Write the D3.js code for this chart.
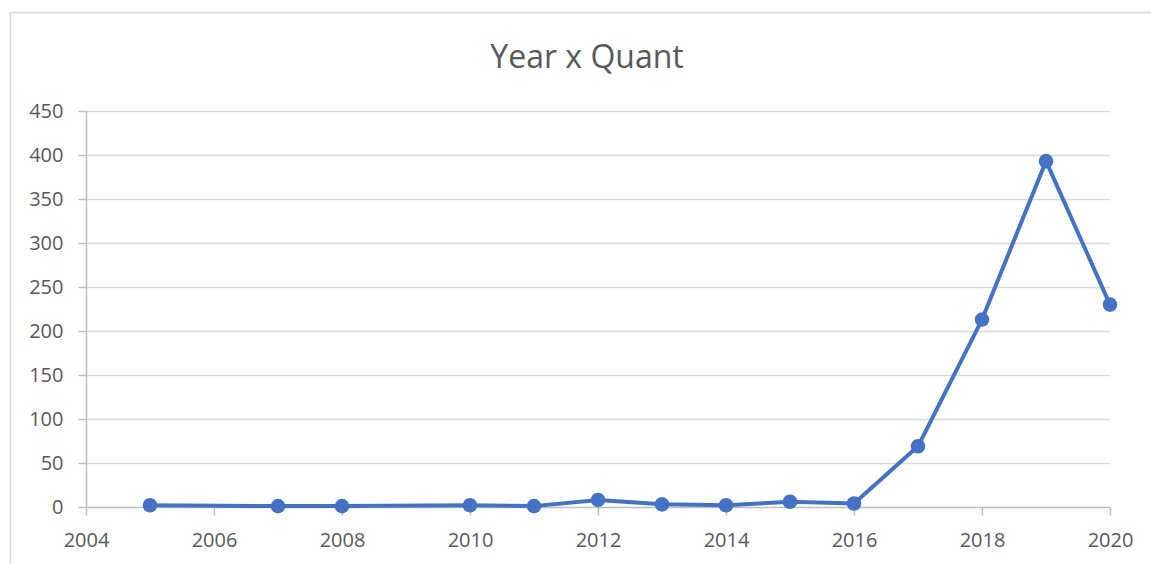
<!DOCTYPE html>
<html>
<head>
<meta charset="utf-8">
<script src="https://cdn.jsdelivr.net/npm/d3@7"></script>
<style>
  body { margin: 0; background: #fff; }
  svg { display: block; font-family: "Open Sans", sans-serif; }
</style>
</head>
<body>
<svg id="chart" width="1151" height="564"></svg>
<script>
// data
var years = [2005, 2007, 2008, 2010, 2011, 2012, 2013, 2014, 2015, 2016, 2017, 2018, 2019, 2020];
var quant = [2, 1, 1, 2, 1, 8, 3, 2, 6, 4, 69, 213, 393, 230];
var xTicks = [2004, 2006, 2008, 2010, 2012, 2014, 2016, 2018, 2020];
var yTicks = [0, 50, 100, 150, 200, 250, 300, 350, 400, 450];
var title = 'Year x Quant';

var svg = d3.select('#chart');
var W = 1151, H = 564;
var margin = {left: 86, right: 41, top: 111, bottom: 57};

// chart frame (runs off the right and bottom edge)
svg.append('rect')
    .attr('x', 10.5).attr('y', 12.5)
    .attr('width', W).attr('height', H)
    .attr('fill', 'none')
    .attr('stroke', '#d9d9d9')
    .attr('stroke-width', 1.5);

svg.append('text')
    .attr('x', 587).attr('y', 68)
    .attr('text-anchor', 'middle')
    .attr('font-size', 32)
    .attr('fill', '#595959')
    .text(title);

var x = d3.scaleLinear().domain([2004, 2020]).range([margin.left, W - margin.right]);
var y = d3.scaleLinear().domain([0, 450]).range([H - margin.bottom, margin.top]);

//gridlines
svg.append('g')
    .selectAll('line')
    .data(yTicks.slice(1))
    .enter()
    .append('line')
    .attr('x1', x(2004)).attr('x2', x(2020))
    .attr('y1', function(d) {return Math.round(y(d)) + 0.5;})
    .attr('y2', function(d) {return Math.round(y(d)) + 0.5;})
    .attr('stroke', '#d9d9d9')
    .attr('stroke-width', 1.5);

var yAxis = svg.append('g')
    .attr('transform', 'translate(' + (margin.left + 0.5) + ',0)')
    .call(d3.axisLeft(y).tickValues(yTicks).tickSize(8).tickPadding(15).tickFormat(d3.format('d')));

var xAxis = svg.append('g')
    .attr('transform', 'translate(0,' + (Math.round(y(0)) + 0.5) + ')')
    .call(d3.axisBottom(x).tickValues(xTicks).tickSize(8).tickPadding(17).tickFormat(d3.format('d')));

[yAxis, xAxis].forEach(function(a) {
    a.select('.domain').attr('stroke', '#bfbfbf').attr('stroke-width', 1.5);
    a.selectAll('.tick line').attr('stroke', '#bfbfbf').attr('stroke-width', 1.5);
    a.selectAll('.tick text')
        .attr('fill', '#595959')
        .attr('font-size', 20)
        .attr('font-family', '"Open Sans", sans-serif');
});
// no outer tick overhang at the ends
yAxis.select('.domain').attr('d', 'M0,' + y(450) + 'V' + y(0));
xAxis.select('.domain').attr('d', 'M' + x(2004) + ',0H' + x(2020));

var pts = years.map(function(d, i) {return {year: d, value: quant[i]};});

var line = d3.line()
    .x(function(d) {return x(d.year);})
    .y(function(d) {return y(d.value);});

svg.append('path')
    .datum(pts)
    .attr('d', line)
    .attr('fill', 'none')
    .attr('stroke', '#4472c4')
    .attr('stroke-width', 4)
    .attr('stroke-linejoin', 'round');

svg.append('g')
    .selectAll('circle')
    .data(pts)
    .enter()
    .append('circle')
    .attr('cx', function(d) {return x(d.year);})
    .attr('cy', function(d) {return y(d.value);})
    .attr('r', 7.3)
    .attr('fill', '#4472c4');
</script>
</body>
</html>
